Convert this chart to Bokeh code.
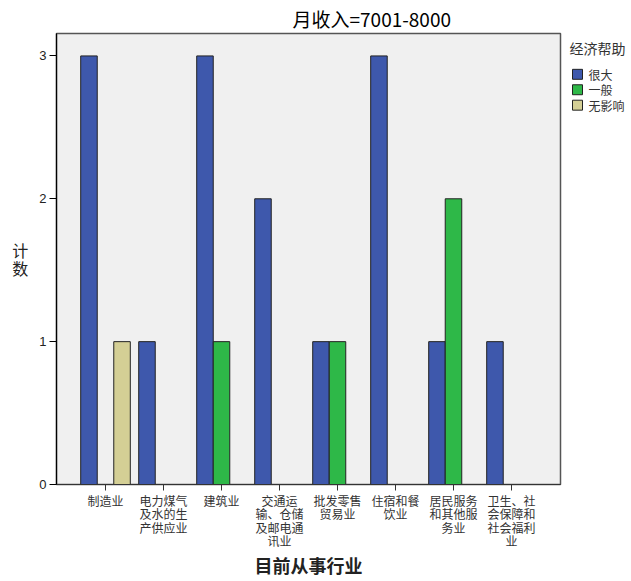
from bokeh.plotting import figure
from bokeh.layouts import row
from bokeh.models import ColumnDataSource, Range1d, FixedTicker, Title
from bokeh.core.properties import value
from bokeh.embed import file_html
from bokeh.resources import INLINE

# ---- data ----
title_text = "月收入=7001-8000"
x_title = "目前从事行业"
y_title = "计\n数"
legend_title = "经济帮助"
categories = ["制造业", "电力煤气及水的生产供应业", "建筑业", "交通运输、仓储及邮电通讯业",
              "批发零售贸易业", "住宿和餐饮业", "居民服务和其他服务业", "卫生、社会保障和社会福利业"]
tick_labels = ["制造业", "电力煤气\n及水的生\n产供应业", "建筑业", "交通运\n输、仓储\n及邮电通\n讯业",
               "批发零售\n贸易业", "住宿和餐\n饮业", "居民服务\n和其他服\n务业", "卫生、社\n会保障和\n社会福利\n业"]
series_names = ["很大", "一般", "无影响"]
count_hen_da = [3, 1, 3, 2, 1, 3, 1, 1]
count_yi_ban = [0, 0, 1, 0, 1, 0, 2, 0]
count_wu_ying_xiang = [1, 0, 0, 0, 0, 0, 0, 0]
y_ticks = [0, 1, 2, 3]

# ---- style ----
CJK = "Noto Sans CJK SC"
LATIN = "Liberation Sans"
colors = ["#3E58AC", "#2EB848", "#D4CF95"]
bar_w = 0.285
offsets = [-bar_w, 0.0, bar_w]
TOP, BOTTOM = 32, 96

n = len(categories)
p = figure(width=562, height=581, output_backend="svg", toolbar_location=None,
           x_range=Range1d(-0.845, n - 1 + 0.845), y_range=Range1d(0, 3.157),
           min_border_left=56, min_border_right=2, min_border_top=TOP, min_border_bottom=BOTTOM)

p.background_fill_color = "#F0F0F0"
p.border_fill_color = "white"
p.outline_line_color = "#555555"
p.outline_line_width = 1.5
p.xgrid.visible = False
p.ygrid.visible = False

p.title = Title(text=title_text, align="left", offset=236, standoff=4,
                text_font=CJK, text_font_size="19px", text_font_style="normal",
                text_color="black")

for name, vals, c, off in zip(series_names, [count_hen_da, count_yi_ban, count_wu_ying_xiang], colors, offsets):
    xs = [i + off for i, v in enumerate(vals) if v > 0]
    tops = [v for v in vals if v > 0]
    src = ColumnDataSource(dict(x=xs, top=tops))
    p.vbar(x="x", top="top", bottom=0, width=bar_w, source=src,
           fill_color=c, line_color="#222222", line_width=1)

# axes
xa = p.xaxis[0]
xa.ticker = FixedTicker(ticks=list(range(n)))
xa.major_label_overrides = {i: t for i, t in enumerate(tick_labels)}
xa.major_label_text_font = CJK
xa.major_label_text_font_size = "12px"
xa.major_label_text_color = "#333333"
xa.major_label_text_line_height = 0.8
xa.major_label_standoff = 1
xa.major_tick_in = 0
xa.major_tick_out = 6
xa.minor_tick_line_color = None
xa.axis_line_color = "#333333"
xa.major_tick_line_color = "#333333"
xa.axis_label = x_title
xa.axis_label_text_font = CJK
xa.axis_label_text_font_size = "18px"
xa.axis_label_text_font_style = "bold"
xa.axis_label_text_color = "#222222"
xa.axis_label_standoff = 0

ya = p.yaxis[0]
ya.ticker = FixedTicker(ticks=y_ticks)
ya.major_label_text_font = LATIN
ya.major_label_text_font_size = "13px"
ya.major_label_text_color = "#222222"
ya.major_label_standoff = 3
ya.major_tick_in = 0
ya.major_tick_out = 7
ya.minor_tick_line_color = None
ya.axis_line_color = "black"
ya.major_tick_line_color = "black"
ya.axis_line_width = 1.2
ya.axis_label = y_title
ya.axis_label_text_font = CJK
ya.axis_label_text_font_size = "16px"
ya.axis_label_text_font_style = "normal"
ya.axis_label_text_color = "#222222"
ya.axis_label_text_line_height = 0.72
ya.axis_label_standoff = 8
try:
    ya.axis_label_orientation = "horizontal"
except Exception:
    pass

# ---- legend panel (separate small figure; its y data equal page pixels) ----
LW, LH = 69, 581
pl = figure(width=LW, height=LH, output_backend="svg", toolbar_location=None,
            x_range=Range1d(0, LW), y_range=Range1d(LH - BOTTOM, TOP),
            min_border_left=0, min_border_right=0, min_border_top=TOP, min_border_bottom=BOTTOM,
            x_axis_type=None, y_axis_type=None)
pl.outline_line_color = None
pl.background_fill_color = "white"
pl.border_fill_color = "white"
pl.xgrid.visible = False
pl.ygrid.visible = False

row_y = [73 + 15.5 * i for i in range(len(series_names))]
leg_src = ColumnDataSource(dict(y=row_y, name=series_names, color=colors))
pl.text(x=[7], y=[47], text=[legend_title], text_font=value(CJK), text_font_size="14px",
        text_color="#333333", text_baseline="middle", text_align="left")
pl.rect(x=15, y="y", width=10, height=10, source=leg_src, fill_color="color",
        line_color="#222222", line_width=1)
pl.text(x=26, y="y", text="name", source=leg_src, text_font=value(CJK), text_font_size="12px",
        text_color="#333333", text_baseline="middle", text_align="left")

layout = row(p, pl)
open("out.html", "w").write(file_html(layout, INLINE))
